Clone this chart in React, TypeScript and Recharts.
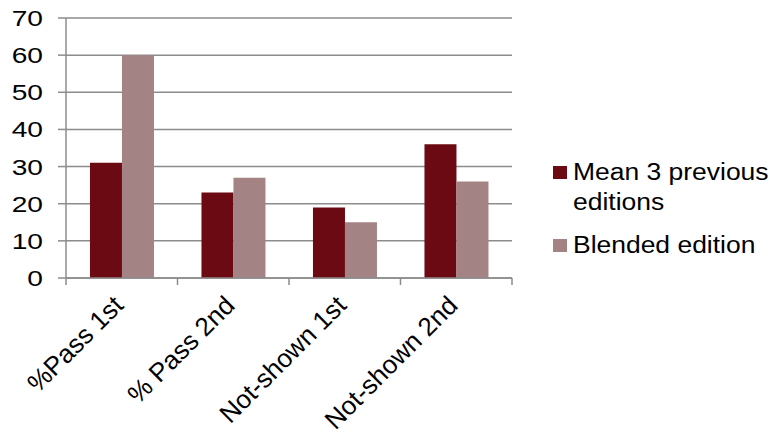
import React from "react";
import { BarChart, Bar, XAxis, YAxis, CartesianGrid } from "recharts";

const categories = ["%Pass 1st", "% Pass 2nd", "Not-shown 1st", "Not-shown 2nd"];
const meanPrevious = [31, 23, 19, 36];
const blended = [60, 27, 15, 26];
const yTicks = [0, 10, 20, 30, 40, 50, 60, 70];
const boundaryTicks = [0, 1, 2, 3, 4];

const series = [
  { key: "mean", name: ["Mean 3 previous", "editions"], color: "#6B0A13" },
  { key: "blended", name: ["Blended edition"], color: "#A48384" },
];

const data = categories.map((c, i) => ({
  category: c,
  slot: i,
  mean: meanPrevious[i],
  blended: blended[i],
}));

const FONT = "'Liberation Sans', Arial, sans-serif";
const GRID = "#8C8C8C";

// rotated category labels, anchored at the end of the text
function CategoryTick(props: any) {
  const { x, y, payload } = props;
  return (
    <g transform={`translate(${x + 3},${y + 20})`}>
      <text transform="rotate(-45)" textAnchor="end" fontSize={26} fontFamily={FONT} fill="#000">
        {payload.value}
      </text>
    </g>
  );
}

// wide value labels on the left axis
function ValueTick(props: any) {
  const { x, y, payload } = props;
  return (
    <g transform={`translate(${x},${y})`}>
      <text
        transform="scale(1.28,1)"
        textAnchor="end"
        dy="0.36em"
        fontSize={22}
        fontFamily={FONT}
        fill="#000"
      >
        {payload.value}
      </text>
    </g>
  );
}

function LegendBox() {
  return (
    <div
      style={{
        position: "absolute",
        left: 553,
        top: 157,
        fontFamily: FONT,
        fontSize: 23,
        color: "#000",
        whiteSpace: "nowrap",
      }}
    >
      {series.map((s, i) => (
        <div
          key={s.key}
          style={{ display: "flex", alignItems: "flex-start", marginBottom: i === 0 ? 13 : 0 }}
        >
          <div
            style={{ width: 14, height: 13, background: s.color, marginTop: 9, marginRight: 6, flexShrink: 0 }}
          />
          <div style={{ lineHeight: "30px", transform: "scaleX(1.15)", transformOrigin: "left" }}>
            {s.name.map((line) => (
              <div key={line}>{line}</div>
            ))}
          </div>
        </div>
      ))}
    </div>
  );
}

export default function App() {
  return (
    <div
      style={{ position: "absolute", left: 0, top: 0, width: 770, height: 436, background: "#fff", overflow: "hidden" }}
    >
      <BarChart
        width={770}
        height={436}
        data={data}
        margin={{ top: 18, right: 258, left: 0, bottom: 8 }}
        barCategoryGap="21.5%"
        barGap={0}
      >
        <CartesianGrid horizontal vertical={false} stroke={GRID} strokeWidth={1.5} />
        {/* boundary ticks between categories */}
        <XAxis
          xAxisId="a"
          type="number"
          dataKey="slot"
          domain={[0, 4]}
          ticks={boundaryTicks}
          interval={0}
          allowDataOverflow
          height={1}
          stroke={GRID}
          strokeWidth={1.5}
          tickSize={7}
          tickFormatter={() => ""}
        />
        <XAxis
          xAxisId="b"
          dataKey="category"
          axisLine={false}
          tickLine={false}
          interval={0}
          height={149}
          tick={<CategoryTick />}
        />
        <YAxis
          domain={[0, 70]}
          ticks={yTicks}
          interval={0}
          width={66}
          stroke={GRID}
          strokeWidth={1.5}
          tickSize={8}
          tickMargin={15}
          tick={<ValueTick />}
        />
        {series.map((s) => (
          <Bar key={s.key} xAxisId="b" dataKey={s.key} fill={s.color} isAnimationActive={false} />
        ))}
      </BarChart>
      <LegendBox />
    </div>
  );
}
